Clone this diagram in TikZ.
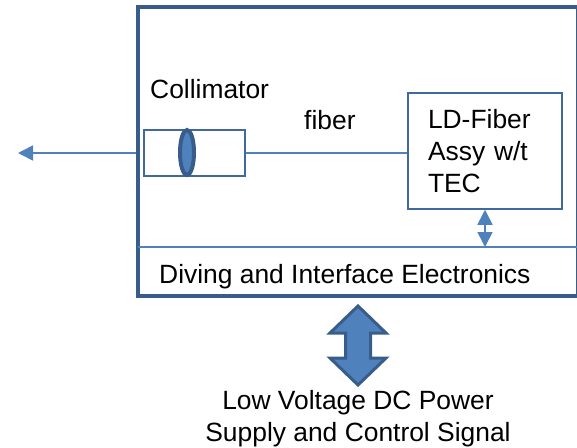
\documentclass[tikz,border=0pt]{standalone}
\usepackage{fontspec}
\setmainfont{Liberation Sans}
\usetikzlibrary{arrows.meta,positioning,shapes.geometric}
\definecolor{lineblue}{HTML}{4F81BD}
\definecolor{edgeblue}{HTML}{41699F}
\definecolor{darkblue}{HTML}{385D8A}
\begin{document}
\begin{tikzpicture}[x=1pt, y=-1pt, >={Triangle[length=15pt, width=15pt]},
  font=\fontsize{26.4}{31.7}\selectfont,
  unitbox/.style={draw=darkblue, line width=4.4pt, minimum width=440pt, minimum height=289pt, inner sep=0},
  partbox/.style={draw=edgeblue, line width=1.5pt, inner sep=0},
  label/.style={inner sep=0, anchor=base west},
  wire/.style={draw=lineblue, line width=1.6pt},
  bigarrow/.style={draw=darkblue, fill=lineblue, line width=3pt, line join=miter}]
\useasboundingbox (0,0) rectangle (577,447);
\node[unitbox] (unit) at (358,151.5) {};
\node[partbox, minimum width=101pt, minimum height=46pt] (coll) at (194.5,153) {};
\node[ellipse, draw=darkblue, fill=lineblue, line width=4pt, inner sep=0,
  minimum width=14pt, minimum height=45pt] (lens) at (187,152.5) {};
\node[partbox, minimum width=154pt, minimum height=116pt, text width=114pt, align=left] (ld) at (485,151)
  {LD-Fiber\\Assy w/t\\TEC};
\coordinate (out) at (18,153);
\coordinate (sepl) at (138,247);
\coordinate (sepr) at (578,247);
\coordinate (pwr) at (358,345.5);
\draw[wire] (sepl) -- (sepr);
\draw[wire] (coll.east) -- (coll.east -| ld.west);
\draw[wire, ->] (unit.west |- coll) -- (out);
\draw[wire, <->] (ld.south) -- (ld.south |- sepl);
\draw[bigarrow, shift={(pwr)}] (0,-39.5) -- (28,-12.5) -- (12.5,-12.5) -- (12.5,12.5) -- (28,12.5)
  -- (0,39.5) -- (-28,12.5) -- (-12.5,12.5) -- (-12.5,-12.5) -- (-28,-12.5) -- cycle;
\node[label] (colltxt) at (150,98) {Collimator};
\node[label] (fibtxt) at (304,129) {fiber};
\node[label] (elec) at (159,283) {Diving and Interface Electronics};
\node[inner sep=0, anchor=north, align=center] (supply) at (358,390)
  {Low Voltage DC Power\\Supply and Control Signal};
\end{tikzpicture}
\end{document}
